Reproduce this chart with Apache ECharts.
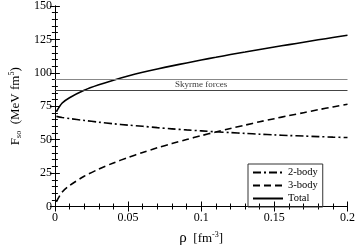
<!DOCTYPE html>
<html><head><meta charset="utf-8">
<script src="https://cdn.jsdelivr.net/npm/echarts@6/dist/echarts.min.js"></script>
<style>html,body{margin:0;padding:0;background:#fff}#c{width:358px;height:251px}</style>
</head><body><div id="c"></div>
<script>
const rho = [0.001,0.005,0.01,0.02,0.03,0.04,0.05,0.06,0.07,0.08,0.09,0.1,0.11,0.12,0.13,0.14,0.15,0.16,0.17,0.18,0.19,0.2];
const twoBody = [67.4,66.6,65.8,64.4,63.1,61.9,60.9,60,59,58.1,57.3,56.6,55.9,55.3,54.7,54.1,53.6,53.1,52.7,52.3,51.9,51.6];
const threeBody = [3.5,10.8,15.6,22.6,28,32.6,36.7,40.4,43.9,47.1,50.1,53,55.7,58.4,60.9,63.4,65.7,68,70.2,72.4,74.5,76.5];
const total = [70.9,77.4,81.4,87,91.1,94.5,97.6,100.4,102.9,105.2,107.4,109.6,111.6,113.7,115.6,117.5,119.3,121.1,122.9,124.7,126.4,128.1];
const skyrme = [95, 87];
const xTicks = [0,0.05,0.1,0.15,0.2];
const yTicks = [0,25,50,75,100,125,150];

const font = 'Liberation Serif';
const pair = a => rho.map((x,i)=>[x,a[i]]);
const axisBase = {
  axisLine:{lineStyle:{color:'#000',width:1}},
  axisTick:{inside:true,length:5,lineStyle:{color:'#000'}},
  minorTick:{show:true,splitNumber:5,length:3,lineStyle:{color:'#000'}},
  splitLine:{show:false}
};
const chart = echarts.init(document.getElementById('c'));
chart.setOption({
  animation:false,
  grid:{left:43,right:8,top:4,bottom:33},
  xAxis:[
    Object.assign({type:'value',min:0,max:0.2,interval:0.05,position:'bottom',
      axisLabel:{fontFamily:font,fontSize:12,color:'#000',margin:5,formatter:v=>xTicks.includes(+v.toFixed(2))?String(+v.toFixed(2)):''},
      name:'{a|ρ}  [fm{s|-3}]',nameLocation:'middle',nameGap:24,
      nameTextStyle:{fontFamily:font,fontSize:13,color:'#000',rich:{a:{fontSize:15,fontFamily:font},s:{fontSize:8,verticalAlign:'top',padding:[0,0,8,0],fontFamily:font}}}
    },axisBase),
    Object.assign({type:'value',min:0,max:0.2,interval:0.05,position:'top',axisLabel:{show:false}},axisBase)
  ],
  yAxis:[
    Object.assign({type:'value',min:0,max:150,interval:25,position:'left',
      axisLabel:{fontFamily:font,fontSize:12,color:'#000',margin:3,formatter:v=>yTicks.includes(v)?String(v):''},
      name:'F{s|so}  (MeV fm{p|5})',nameLocation:'middle',nameGap:25,
      nameTextStyle:{fontFamily:font,fontSize:13,color:'#000',rich:{s:{fontSize:8,fontFamily:font,padding:[6,0,0,0]},p:{fontSize:8,fontFamily:font,padding:[0,0,8,0]}}}
    },axisBase),
    Object.assign({type:'value',min:0,max:150,interval:25,position:'right',axisLabel:{show:false}},axisBase)
  ],
  legend:{
    left:248,top:164,orient:'vertical',itemWidth:30,itemHeight:9,itemGap:2,
    borderColor:'#333',borderWidth:1,borderRadius:0,padding:[3,5,3,4],
    itemStyle:{opacity:0},
    textStyle:{fontFamily:font,fontSize:10.5,lineHeight:9,color:'#000'},
    data:['2-body','3-body','Total']
  },
  series:[
    {name:'2-body',type:'line',data:pair(twoBody),showSymbol:false,symbol:'none',smooth:0.3,
      lineStyle:{color:'#000',width:1.6,type:[8,3,2,3]},itemStyle:{color:'#000'}},
    {name:'3-body',type:'line',data:pair(threeBody),showSymbol:false,symbol:'none',smooth:0.3,
      lineStyle:{color:'#000',width:1.6,type:[7,4]},itemStyle:{color:'#000'}},
    {name:'Total',type:'line',data:pair(total),showSymbol:false,symbol:'none',smooth:0.3,
      lineStyle:{color:'#000',width:1.6},itemStyle:{color:'#000'},
      markLine:{silent:true,symbol:'none',label:{show:false},
        data:[
          {yAxis:skyrme[0],lineStyle:{color:'#888',width:1,type:'solid'}},
          {yAxis:skyrme[1],lineStyle:{color:'#444',width:1,type:'solid'}}
        ]}},
    {type:'scatter',data:[[0.1,(skyrme[0]+skyrme[1])/2]],symbolSize:0,silent:true,
      label:{show:true,formatter:'Skyrme forces',position:'inside',fontFamily:font,fontSize:9,color:'#000'}}
  ]
});
</script></body></html>
